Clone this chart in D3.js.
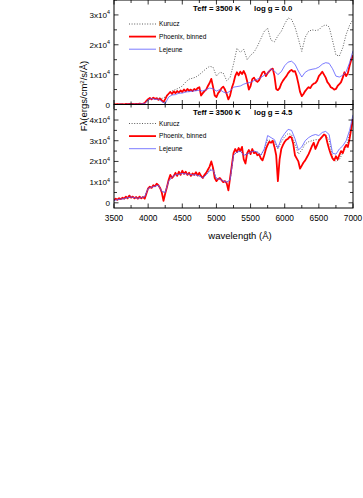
<!DOCTYPE html>
<html><head><meta charset="utf-8">
<script src="https://cdn.jsdelivr.net/npm/d3@7"></script>
<style>
html,body{margin:0;padding:0;background:#fff;}
svg{display:block;font-family:"Liberation Sans",Arial,sans-serif;}
</style></head>
<body><svg id="c" width="363" height="498"></svg>
<script>
// wavelength grids (Å)
const waveFine = d3.range(3500, 7001, 25);   // Phoenix, binned
const waveCoarse = d3.range(3500, 7001, 50); // Kurucz, Lejeune
const xTicks = [3500,4000,4500,5000,5500,6000,6500,7000];
// flux in units of 10^4 ergs/cm^2/s/Å
const topPhoenix = [
0.01,0.00,0.01,0.00,0.01,0.01,0.00,0.02,0.01,0.02,0.01,0.02,0.01,0.02,0.01,0.03,0.02,0.03,0.05,0.12,
0.18,0.22,0.17,0.23,0.19,0.21,0.16,0.20,0.14,0.08,0.18,0.30,0.36,0.42,0.35,0.44,0.38,0.45,0.40,0.47,
0.42,0.50,0.44,0.52,0.46,0.50,0.45,0.52,0.48,0.55,0.58,0.30,0.38,0.45,0.50,0.62,0.72,0.86,0.60,0.30,
0.25,0.38,0.45,0.55,0.60,0.50,0.35,0.17,0.30,0.55,0.72,0.95,1.08,0.98,1.10,1.02,1.12,1.00,0.78,0.50,
0.62,0.85,0.90,0.80,0.76,0.82,0.95,1.08,1.10,0.95,1.05,1.12,1.18,1.20,0.95,0.52,0.48,0.55,0.70,0.80,
0.88,0.95,1.05,1.12,1.16,1.10,1.12,0.95,0.70,0.42,0.28,0.35,0.45,0.52,0.58,0.55,0.65,0.70,0.72,0.80,
0.95,1.02,1.10,1.00,0.90,0.75,0.68,0.58,0.55,0.50,0.52,0.62,0.68,0.75,0.90,1.08,0.95,1.05,1.30,1.50,
1.65];
const topLejeune = [
0.00,0.00,0.01,0.00,0.01,0.01,0.01,0.01,0.02,0.03,
0.15,0.20,0.17,0.18,0.10,0.03,0.25,0.32,0.33,0.38,
0.38,0.42,0.43,0.45,0.46,0.48,0.45,0.50,0.55,0.53,
0.45,0.50,0.42,0.38,0.45,0.58,0.60,0.62,0.68,0.72,
0.74,0.80,0.85,0.90,0.98,1.05,1.20,1.12,1.00,1.10,
1.30,1.42,1.45,1.35,1.12,0.92,1.08,1.15,1.18,1.20,
1.25,1.35,1.40,1.38,1.20,0.95,0.92,0.98,1.10,1.40,
1.80];
const topKurucz = [
0.00,0.00,0.01,0.00,0.01,0.01,0.01,0.01,0.02,0.04,
0.15,0.20,0.20,0.22,0.20,0.25,0.35,0.45,0.50,0.55,
0.62,0.75,0.85,0.88,0.92,1.00,1.10,1.20,1.28,1.25,
0.95,1.08,1.05,0.80,0.90,1.35,1.88,1.75,1.85,1.50,
1.65,1.75,1.95,2.20,2.45,2.55,2.15,2.10,2.30,2.45,
2.70,2.90,2.85,2.60,2.20,1.78,2.25,2.45,2.50,2.48,
2.50,2.62,2.67,2.60,2.15,1.66,1.62,1.90,2.35,2.65,
2.85];
const botPhoenix = [
0.13,0.20,0.15,0.22,0.18,0.25,0.20,0.30,0.22,0.35,0.25,0.30,0.22,0.28,0.20,0.30,0.22,0.28,0.20,0.45,
0.70,0.78,0.72,0.85,0.80,0.92,0.85,0.72,0.50,0.10,0.45,0.75,1.10,1.35,1.20,1.30,1.45,1.30,1.50,1.35,
1.55,1.40,1.50,1.35,1.45,1.30,1.42,1.35,1.48,1.32,1.45,1.30,1.20,1.35,1.45,1.60,1.75,2.00,1.70,1.20,
1.05,1.15,1.20,1.10,1.00,1.05,0.95,0.60,1.20,1.80,2.40,2.60,2.45,2.65,2.50,2.70,2.10,1.90,2.40,2.55,
2.35,2.60,2.40,2.45,2.30,2.35,2.15,2.05,2.30,2.60,2.80,2.95,2.90,3.00,2.70,2.30,1.05,2.10,2.60,2.80,
2.95,3.05,3.10,3.20,3.15,2.85,2.30,2.15,2.00,1.65,1.80,1.95,2.05,2.20,2.35,2.55,2.75,2.90,2.60,2.80,
3.00,3.10,3.20,3.30,3.25,2.90,2.60,2.35,2.15,2.05,2.25,2.10,2.30,2.50,2.40,2.65,2.80,2.70,3.10,3.60,
4.05];
const botLejeune = [
0.12,0.15,0.18,0.20,0.25,0.28,0.25,0.22,0.25,0.30,
0.70,0.75,0.80,0.85,0.55,0.50,1.05,1.25,1.35,1.38,
1.42,1.40,1.38,1.35,1.35,1.30,1.20,1.35,1.55,1.60,
1.15,1.15,1.05,1.00,1.10,2.30,2.45,2.50,2.30,2.35,
2.45,2.50,2.45,2.30,2.60,3.25,3.15,3.05,2.65,3.10,
3.35,3.55,3.50,3.10,2.55,2.70,3.00,3.15,3.25,3.30,
3.25,3.40,3.45,3.30,2.40,2.35,2.60,2.75,3.00,3.50,
4.25];
const botKurucz = [
0.12,0.15,0.18,0.20,0.24,0.27,0.25,0.22,0.25,0.30,
0.70,0.75,0.80,0.85,0.55,0.50,1.05,1.25,1.35,1.38,
1.42,1.40,1.38,1.35,1.35,1.30,1.20,1.35,1.60,1.68,
1.15,1.15,1.05,1.00,1.10,2.30,2.45,2.50,2.30,2.35,
2.45,2.50,2.45,2.30,2.55,3.05,3.00,2.95,2.60,2.95,
3.20,3.35,3.30,2.85,2.35,2.55,2.85,2.95,3.00,3.05,
3.05,3.20,3.25,3.05,2.20,2.00,2.10,2.40,2.70,3.30,
4.00];
const topYTicks = [0,1,2,3];
const botYTicks = [0,1,2,3,4];
const legendLabels = ["Kurucz","Phoenix, binned","Lejeune"];
const panelTitles = [["Teff = 3500 K","log g = 0.0"],["Teff = 3500 K","log g = 4.5"]];

const svg = d3.select("#c");
const L = 114, R = 353;
const x = d3.scaleLinear().domain([3500,7000]).range([L,R]);
const panels = [
  {y: d3.scaleLinear().domain([0,3.5]).range([104.5,0]), top:0, bot:104.5,
   ticks: topYTicks, ph: topPhoenix, le: topLejeune, ku: topKurucz, title: panelTitles[0], legY: 24},
  {y: d3.scaleLinear().domain([-0.25,4.75]).range([208,104.5]), top:104.5, bot:208,
   ticks: botYTicks, ph: botPhoenix, le: botLejeune, ku: botKurucz, title: panelTitles[1], legY: 123.5}
];
const minorX = d3.range(3500,7001,250);

panels.forEach((p,i)=>{
  const g = svg.append("g");
  const clipId = "clip"+i;
  svg.append("clipPath").attr("id",clipId).append("rect")
    .attr("x",L).attr("y",p.top).attr("width",R-L).attr("height",p.bot-p.top);
  const dg = g.append("g").attr("clip-path",`url(#${clipId})`);
  const lineC = d3.line().x((d,j)=>x(waveCoarse[j])).y(d=>p.y(d));
  const lineF = d3.line().x((d,j)=>x(waveFine[j])).y(d=>p.y(d));
  dg.append("path").attr("d",lineC(p.ku)).attr("fill","none").attr("stroke","#333")
    .attr("stroke-width",0.8).attr("stroke-dasharray","1,1.6");
  dg.append("path").attr("d",lineF(p.ph)).attr("fill","none").attr("stroke","#ff0000")
    .attr("stroke-width",1.8).attr("stroke-linejoin","round");
  dg.append("path").attr("d",lineC(p.le)).attr("fill","none").attr("stroke","#5a5aff")
    .attr("stroke-width",0.8);

  // frame
  g.append("rect").attr("x",L).attr("y",p.top).attr("width",R-L).attr("height",p.bot-p.top)
    .attr("fill","none").attr("stroke","#000").attr("stroke-width",1);
  // x ticks (inward, bottom and top)
  minorX.forEach(v=>{
    const major = v%500===0;
    const len = major?4.5:3;
    g.append("line").attr("x1",x(v)).attr("x2",x(v)).attr("y1",p.bot).attr("y2",p.bot-len)
      .attr("stroke","#000").attr("stroke-width",0.8);
    g.append("line").attr("x1",x(v)).attr("x2",x(v)).attr("y1",p.top).attr("y2",p.top+len)
      .attr("stroke","#000").attr("stroke-width",0.8);
  });
  // y ticks
  const yd = p.y.domain();
  const ymin = Math.ceil(yd[0]*2)/2;
  d3.range(ymin, yd[1]+0.001, 0.5).forEach(v=>{
    const major = Math.abs(v-Math.round(v))<1e-6;
    const len = major?4.5:3;
    const yy = p.y(v);
    g.append("line").attr("x1",L).attr("x2",L+len).attr("y1",yy).attr("y2",yy)
      .attr("stroke","#000").attr("stroke-width",0.8);
    g.append("line").attr("x1",R).attr("x2",R-len).attr("y1",yy).attr("y2",yy)
      .attr("stroke","#000").attr("stroke-width",0.8);
  });
  // y tick labels
  p.ticks.forEach(v=>{
    const t = g.append("text").attr("x",110).attr("y",p.y(v)+3).attr("text-anchor","end")
      .attr("font-size",8.1).attr("fill","#000");
    if(v===0){ t.text("0"); }
    else {
      t.append("tspan").text(v+"x10");
      t.append("tspan").attr("font-size",5.3).attr("dy",-3.5).text("4");
    }
  });
  // title
  g.append("text").attr("x",193).attr("y",p.top+10.5).attr("font-size",7.8).attr("font-weight","bold").text(p.title[0]);
  g.append("text").attr("x",254).attr("y",p.top+10.5).attr("font-size",7.8).attr("font-weight","bold").text(p.title[1]);
  // legend
  const styles = [
    {s:"#333",w:0.8,da:"1,1.6"},
    {s:"#ff0000",w:1.8,da:null},
    {s:"#5a5aff",w:0.8,da:null}
  ];
  legendLabels.forEach((lab,k)=>{
    const ly = p.legY + k*12.6;
    const ln = g.append("line").attr("x1",129).attr("x2",156).attr("y1",ly).attr("y2",ly)
      .attr("stroke",styles[k].s).attr("stroke-width",styles[k].w);
    if(styles[k].da) ln.attr("stroke-dasharray",styles[k].da);
    g.append("text").attr("x",159).attr("y",ly+2.3).attr("font-size",6.6).text(lab);
  });
});

// x tick labels
xTicks.forEach(v=>{
  svg.append("text").attr("x",x(v)).attr("y",221).attr("text-anchor","middle")
    .attr("font-size",8.3).text(v);
});
svg.append("text").attr("x",240).attr("y",239).attr("text-anchor","middle")
  .attr("font-size",9.5).text("wavelength (Å)");
const yl = svg.append("text").attr("transform","translate(87,96) rotate(-90)")
  .attr("text-anchor","middle").attr("font-size",9.5);
yl.append("tspan").text("Fλ(ergs/cm");
yl.append("tspan").attr("font-size",6).attr("dy",-3.5).text("2");
yl.append("tspan").attr("dy",3.5).text("/s/Å)");
</script></body></html>
